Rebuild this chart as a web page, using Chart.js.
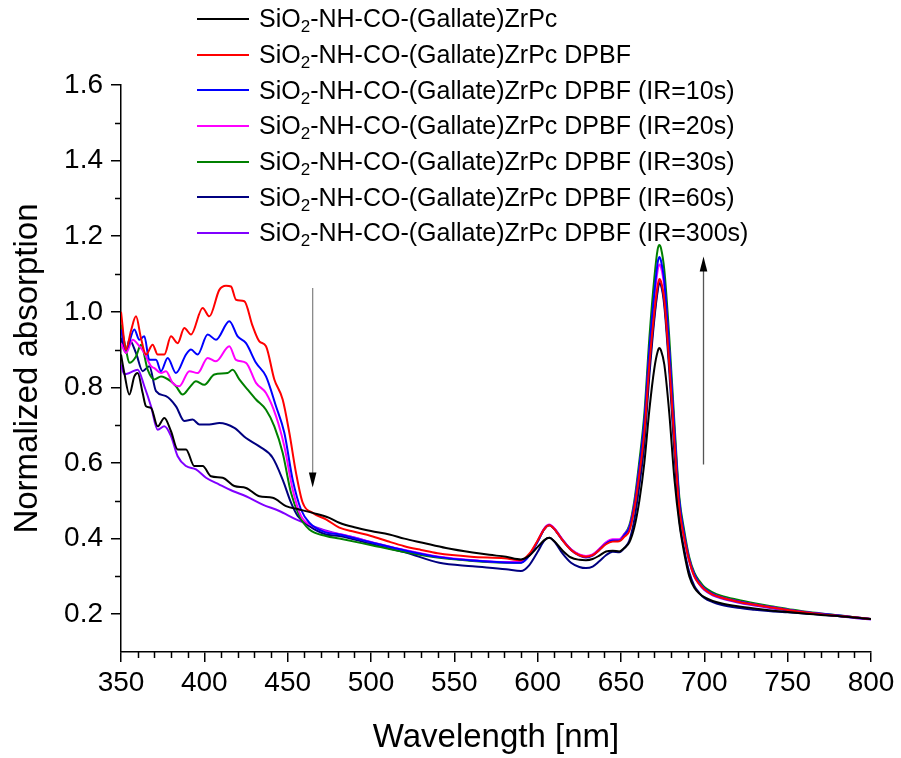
<!DOCTYPE html>
<html>
<head>
<meta charset="utf-8">
<script src="https://cdn.jsdelivr.net/npm/chart.js@4.4.1/dist/chart.umd.min.js"></script>
<style>
  body { margin: 0; background: #fff; }
  #wrap { position: relative; width: 901px; height: 758px; }
  #legend { position: absolute; left: 197px; top: 1px; font-family: "Liberation Sans", Arial, sans-serif; font-size: 25px; color: #000; }
  .row { display: flex; align-items: center; height: 35.7px; white-space: nowrap; }
  .swatch { width: 52px; height: 2px; margin-right: 10px; }
  .row sub { font-size: 0.68em; vertical-align: -0.3em; line-height: 0; }
</style>
</head>
<body>
<div id="wrap">
  <canvas id="chart" width="901" height="758"></canvas>
  <div id="legend"></div>
</div>
<script>
// Noms des séries et couleurs (ordre de la légende)
const seriesNames = [
  "SiO2-NH-CO-(Gallate)ZrPc",
  "SiO2-NH-CO-(Gallate)ZrPc DPBF",
  "SiO2-NH-CO-(Gallate)ZrPc DPBF (IR=10s)",
  "SiO2-NH-CO-(Gallate)ZrPc DPBF (IR=20s)",
  "SiO2-NH-CO-(Gallate)ZrPc DPBF (IR=30s)",
  "SiO2-NH-CO-(Gallate)ZrPc DPBF (IR=60s)",
  "SiO2-NH-CO-(Gallate)ZrPc DPBF (IR=300s)"
];
const seriesColors = ["#000000", "#ff0000", "#0000ff", "#ff00ff", "#008000", "#000080", "#8000ff"];

// Graduations
const xTicks = [350, 400, 450, 500, 550, 600, 650, 700, 750, 800];
const yTicks = [0.2, 0.4, 0.6, 0.8, 1.0, 1.2, 1.4, 1.6];

// Partie UV (350-580 nm) : longueurs d'onde + absorbance
const wlBlack  = [350, 352, 355, 358, 360, 363, 365, 368, 372, 376, 380, 384, 389, 394, 399, 404, 411, 418, 425, 433, 441, 449, 457, 465, 475, 481, 490, 500, 511, 520, 531, 545, 561, 571, 581];
const absBlack = [0.887, 0.838, 0.781, 0.829, 0.838, 0.785, 0.750, 0.746, 0.697, 0.719, 0.684, 0.636, 0.636, 0.592, 0.592, 0.565, 0.561, 0.539, 0.534, 0.512, 0.508, 0.486, 0.477, 0.468, 0.455, 0.442, 0.430, 0.420, 0.411, 0.400, 0.389, 0.375, 0.363, 0.357, 0.352];

const wlRed  = [350, 353, 356, 359, 362, 365, 369, 372, 376, 380, 384, 388, 392, 399, 403, 409, 413, 416, 419, 424, 429, 433, 437, 442, 447, 451, 455, 459, 465, 473, 481, 490, 500, 510, 520, 530, 540, 560, 580];
const absRed = [1.000, 0.900, 0.950, 0.988, 0.930, 0.887, 0.913, 0.887, 0.887, 0.935, 0.917, 0.957, 0.940, 1.010, 0.988, 1.058, 1.069, 1.067, 1.032, 1.028, 0.962, 0.922, 0.909, 0.821, 0.768, 0.680, 0.574, 0.495, 0.468, 0.451, 0.429, 0.418, 0.407, 0.393, 0.380, 0.370, 0.361, 0.352, 0.348];

const wlIR10  = [350, 353, 358, 361, 364, 367, 371, 374, 378, 383, 389, 392, 396, 402, 407, 415, 420, 425, 431, 437, 443, 448, 453, 458, 463, 473, 481, 501, 521, 541, 561, 581];
const absIR10 = [0.953, 0.900, 0.953, 0.926, 0.935, 0.873, 0.873, 0.843, 0.878, 0.838, 0.887, 0.900, 0.887, 0.940, 0.926, 0.975, 0.935, 0.917, 0.865, 0.829, 0.750, 0.680, 0.556, 0.477, 0.442, 0.416, 0.411, 0.389, 0.368, 0.351, 0.342, 0.337];

const wlIR20  = [350, 353, 357, 361, 364, 368, 370, 374, 377, 381, 385, 391, 396, 402, 407, 415, 419, 425, 431, 437, 443, 448, 453, 458, 465, 475, 481, 501, 521, 541, 561, 581];
const absIR20 = [0.917, 0.891, 0.926, 0.909, 0.891, 0.856, 0.851, 0.838, 0.843, 0.812, 0.803, 0.843, 0.838, 0.878, 0.869, 0.909, 0.873, 0.865, 0.812, 0.785, 0.724, 0.644, 0.530, 0.460, 0.433, 0.416, 0.412, 0.390, 0.369, 0.352, 0.343, 0.338];

const wlIR30  = [350, 353, 355, 359, 362, 366, 370, 374, 380, 383, 387, 391, 395, 400, 406, 414, 417, 421, 426, 431, 437, 442, 447, 452, 457, 463, 473, 481, 501, 521, 541, 561, 581];
const absIR30 = [0.966, 0.900, 0.865, 0.882, 0.913, 0.847, 0.821, 0.829, 0.816, 0.803, 0.781, 0.799, 0.816, 0.807, 0.834, 0.838, 0.847, 0.821, 0.794, 0.768, 0.741, 0.697, 0.627, 0.521, 0.460, 0.424, 0.407, 0.400, 0.382, 0.364, 0.349, 0.341, 0.337];

const wlIR60  = [350, 353, 355, 359, 363, 367, 371, 377, 383, 388, 393, 397, 403, 409, 418, 425, 433, 441, 447, 452, 456, 463, 473, 481, 501, 521, 541, 561, 581];
const absIR60 = [0.931, 0.891, 0.926, 0.891, 0.843, 0.856, 0.790, 0.777, 0.750, 0.711, 0.715, 0.702, 0.702, 0.706, 0.693, 0.666, 0.644, 0.614, 0.556, 0.495, 0.460, 0.433, 0.411, 0.407, 0.385, 0.363, 0.336, 0.327, 0.319];

const wlIR300  = [350, 352, 355, 360, 364, 368, 372, 376, 380, 384, 389, 395, 401, 409, 417, 425, 435, 445, 455, 465, 477, 490, 501, 521, 541, 561, 581];
const absIR300 = [0.860, 0.835, 0.838, 0.847, 0.803, 0.750, 0.688, 0.697, 0.671, 0.618, 0.592, 0.583, 0.561, 0.543, 0.526, 0.512, 0.490, 0.473, 0.451, 0.433, 0.416, 0.403, 0.389, 0.368, 0.351, 0.342, 0.337];

// Partie visible (590-800 nm) : grille commune
const visWl = [590, 595, 600, 604, 607, 610, 615, 620, 625, 629, 633, 637, 641, 645, 649, 652, 655, 658, 661, 664, 667, 670, 672, 673, 674, 676, 679, 682, 685, 688, 691, 694, 697, 700, 705, 710, 720, 730, 740, 750, 760, 770, 780, 790, 800];
const visBlack = [0.345, 0.355, 0.378, 0.396, 0.402, 0.393, 0.368, 0.350, 0.344, 0.343, 0.346, 0.355, 0.366, 0.368, 0.366, 0.375, 0.390, 0.430, 0.500, 0.600, 0.740, 0.850, 0.895, 0.904, 0.898, 0.860, 0.730, 0.560, 0.440, 0.360, 0.300, 0.270, 0.255, 0.245, 0.235, 0.229, 0.221, 0.215, 0.210, 0.206, 0.202, 0.198, 0.195, 0.191, 0.187];
const visRed   = [0.343, 0.360, 0.395, 0.425, 0.435, 0.425, 0.395, 0.370, 0.356, 0.352, 0.356, 0.370, 0.385, 0.392, 0.393, 0.405, 0.420, 0.480, 0.570, 0.680, 0.860, 1.000, 1.070, 1.087, 1.080, 1.030, 0.860, 0.660, 0.480, 0.400, 0.340, 0.300, 0.280, 0.266, 0.252, 0.244, 0.233, 0.225, 0.218, 0.211, 0.205, 0.200, 0.196, 0.192, 0.187];
const visIR10  = [0.336, 0.355, 0.392, 0.425, 0.435, 0.425, 0.395, 0.370, 0.355, 0.350, 0.355, 0.370, 0.387, 0.395, 0.395, 0.410, 0.430, 0.490, 0.590, 0.710, 0.900, 1.050, 1.130, 1.145, 1.135, 1.080, 0.900, 0.690, 0.500, 0.410, 0.345, 0.305, 0.283, 0.268, 0.254, 0.245, 0.234, 0.226, 0.219, 0.212, 0.206, 0.201, 0.197, 0.192, 0.187];
const visIR20  = [0.338, 0.357, 0.394, 0.427, 0.437, 0.427, 0.397, 0.372, 0.358, 0.354, 0.358, 0.373, 0.390, 0.398, 0.398, 0.412, 0.430, 0.490, 0.585, 0.700, 0.890, 1.035, 1.110, 1.125, 1.118, 1.065, 0.890, 0.680, 0.490, 0.405, 0.343, 0.303, 0.282, 0.267, 0.253, 0.245, 0.234, 0.226, 0.219, 0.212, 0.206, 0.201, 0.196, 0.192, 0.187];
const visIR30  = [0.337, 0.356, 0.393, 0.426, 0.436, 0.426, 0.396, 0.371, 0.357, 0.353, 0.357, 0.372, 0.389, 0.396, 0.396, 0.412, 0.435, 0.500, 0.605, 0.730, 0.930, 1.090, 1.165, 1.177, 1.168, 1.110, 0.930, 0.710, 0.510, 0.420, 0.350, 0.310, 0.288, 0.272, 0.258, 0.249, 0.238, 0.229, 0.221, 0.214, 0.207, 0.202, 0.197, 0.192, 0.187];
const visIR60  = [0.314, 0.330, 0.365, 0.395, 0.402, 0.392, 0.360, 0.336, 0.325, 0.322, 0.326, 0.340, 0.356, 0.365, 0.364, 0.375, 0.395, 0.450, 0.540, 0.650, 0.830, 0.980, 1.055, 1.075, 1.070, 1.015, 0.840, 0.630, 0.450, 0.370, 0.310, 0.275, 0.256, 0.243, 0.232, 0.225, 0.217, 0.212, 0.208, 0.205, 0.202, 0.199, 0.195, 0.191, 0.187];
const visIR300 = [0.337, 0.356, 0.393, 0.426, 0.436, 0.426, 0.396, 0.371, 0.357, 0.353, 0.357, 0.372, 0.388, 0.395, 0.395, 0.408, 0.425, 0.480, 0.570, 0.680, 0.850, 0.990, 1.060, 1.080, 1.074, 1.025, 0.860, 0.660, 0.480, 0.400, 0.340, 0.300, 0.279, 0.264, 0.250, 0.242, 0.231, 0.223, 0.216, 0.210, 0.204, 0.199, 0.195, 0.190, 0.186];

// Flèches (longueur d'onde, début, fin)
const arrowWl   = [465, 699.5];
const arrowFrom = [1.063, 0.596];
const arrowTo   = [0.535, 1.146];

const uvWl  = [wlBlack, wlRed, wlIR10, wlIR20, wlIR30, wlIR60, wlIR300];
const uvAbs = [absBlack, absRed, absIR10, absIR20, absIR30, absIR60, absIR300];
const visAbs = [visBlack, visRed, visIR10, visIR20, visIR30, visIR60, visIR300];

function buildPoints(i) {
  const pts = uvWl[i].map((w, k) => ({ x: w, y: uvAbs[i][k] }));
  return pts.concat(visWl.map((w, k) => ({ x: w, y: visAbs[i][k] })));
}

const FONT = "'Liberation Sans', Arial, sans-serif";

// Petites graduations + flèches
const extras = {
  id: "extras",
  afterDatasetsDraw(chart) {
    const ctx = chart.ctx;
    const xs = chart.scales.x, ys = chart.scales.y;
    const area = chart.chartArea;
    ctx.save();
    ctx.strokeStyle = "#000";
    ctx.lineWidth = 1.5;
    ctx.beginPath();
    for (let v = 360; v < 800; v += 10) {
      if (v % 50 === 0) continue;
      const px = Math.round(xs.getPixelForValue(v)) + 0.5;
      ctx.moveTo(px, area.bottom);
      ctx.lineTo(px, area.bottom + 6);
    }
    for (let k = 1; k < yTicks.length; k++) {
      const v = (yTicks[k - 1] + yTicks[k]) / 2;
      const py = Math.round(ys.getPixelForValue(v)) + 0.5;
      ctx.moveTo(area.left, py);
      ctx.lineTo(area.left - 6, py);
    }
    ctx.stroke();

    // fleches
    for (let k = 0; k < arrowWl.length; k++) {
      const px = xs.getPixelForValue(arrowWl[k]);
      const y0 = ys.getPixelForValue(arrowFrom[k]);
      const y1 = ys.getPixelForValue(arrowTo[k]);
      const dir = y1 > y0 ? 1 : -1;
      ctx.strokeStyle = k === 0 ? "#8a8a8a" : "#555";
      ctx.lineWidth = 1.3;
      ctx.beginPath();
      ctx.moveTo(px, y0);
      ctx.lineTo(px, y1 - dir * 12);
      ctx.stroke();
      ctx.fillStyle = "#000";
      ctx.beginPath();
      ctx.moveTo(px, y1);
      ctx.lineTo(px - 3.8, y1 - dir * 15);
      ctx.lineTo(px + 3.8, y1 - dir * 15);
      ctx.closePath();
      ctx.fill();
    }
    ctx.restore();
  }
};

const chart = new Chart(document.getElementById("chart"), {
  type: "line",
  data: {
    datasets: seriesNames.map((name, i) => ({
      label: name,
      data: buildPoints(i),
      borderColor: seriesColors[i],
      backgroundColor: seriesColors[i],
      borderWidth: 2,
      pointRadius: 0,
      fill: false,
      cubicInterpolationMode: "monotone"
    }))
  },
  options: {
    responsive: false,
    animation: false,
    layout: { padding: { top: 85, right: 30, left: 0, bottom: 0 } },
    plugins: { legend: { display: false }, tooltip: { enabled: false } },
    scales: {
      x: {
        type: "linear",
        min: 350,
        max: 800,
        afterBuildTicks: s => { s.ticks = xTicks.map(v => ({ value: v })); },
        afterFit: s => { s.height = 106; },
        ticks: { font: { family: FONT, size: 28 }, color: "#000", padding: 4, maxRotation: 0, autoSkip: false },
        grid: { drawOnChartArea: false, tickLength: 10, color: "#000", lineWidth: 1.5 },
        border: { color: "#000", width: 1.5 },
        title: { display: true, text: "Wavelength [nm]", color: "#000", font: { family: FONT, size: 33 }, padding: { top: 0, bottom: 0 } }
      },
      y: {
        min: 0.1,
        max: 1.6,
        afterBuildTicks: s => { s.ticks = yTicks.map(v => ({ value: v })); },
        afterFit: s => { s.width = 121; },
        ticks: { font: { family: FONT, size: 28 }, color: "#000", padding: 8, callback: v => v.toFixed(1) },
        grid: { drawOnChartArea: false, tickLength: 10, color: "#000", lineWidth: 1.5 },
        border: { color: "#000", width: 1.5 },
        title: { display: true, text: "Normalized absorption", color: "#000", font: { family: FONT, size: 33 }, padding: { top: 8, bottom: 0 } }
      }
    }
  },
  plugins: [extras]
});

// Légende HTML (indice pour SiO2)
const legend = document.getElementById("legend");
chart.data.datasets.forEach(ds => {
  const row = document.createElement("div");
  row.className = "row";
  const sw = document.createElement("span");
  sw.className = "swatch";
  sw.style.background = ds.borderColor;
  const txt = document.createElement("span");
  txt.innerHTML = ds.label.replace("SiO2", "SiO<sub>2</sub>");
  row.appendChild(sw);
  row.appendChild(txt);
  legend.appendChild(row);
});
</script>
</body>
</html>
